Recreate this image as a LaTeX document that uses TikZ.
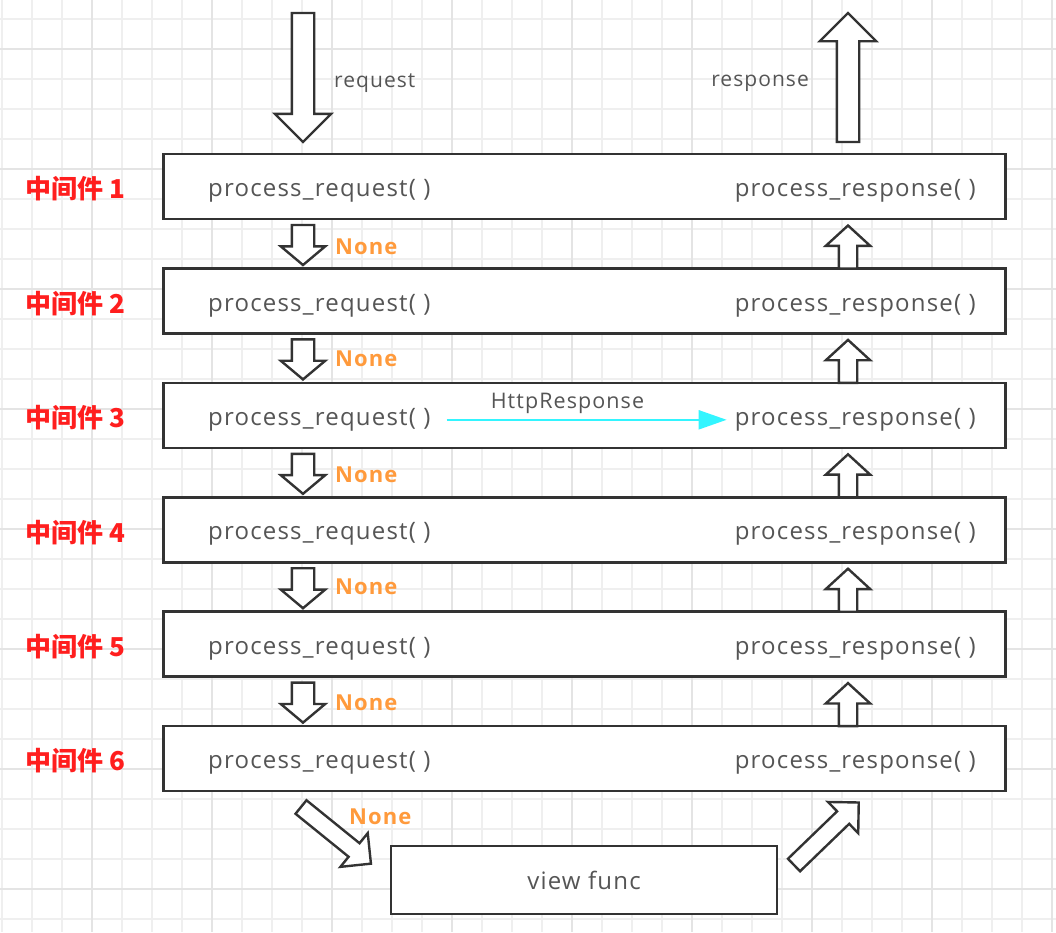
\documentclass[tikz,border=0pt]{standalone}
\usepackage{fontspec}
\setmainfont{Open Sans}
\newfontfamily\methfont{Open Sans}[LetterSpace=5]
\newfontfamily\cjk{Noto Sans CJK SC}
\usepackage{tikz}
\usetikzlibrary{shapes.arrows,arrows.meta}
\definecolor{gridline}{HTML}{EFEFEF}
\definecolor{gridmajor}{HTML}{E4E4E4}
\definecolor{boxline}{HTML}{333333}
\definecolor{txtgray}{HTML}{555555}
\definecolor{layerred}{HTML}{FF1E1E}
\definecolor{noneorange}{HTML}{FF9A3C}
\definecolor{shortcut}{HTML}{33F5FF}

\begin{document}
\begin{tikzpicture}[x=1pt,y=-1pt,
  layer/.style={draw=boxline,line width=2.6pt,fill=white,minimum width=842pt,minimum height=65pt,inner sep=0pt},
  meth/.style={text=txtgray,font=\methfont\fontsize{24}{28}\selectfont,inner sep=0pt},
  small/.style={text=txtgray,font=\methfont\fontsize{21}{24}\selectfont,inner sep=0pt},
  tag/.style={text=layerred,font=\cjk\bfseries\fontsize{26}{28}\selectfont,inner sep=0pt,anchor=west},
  none/.style={text=noneorange,font=\methfont\bfseries\fontsize{22}{24}\selectfont,inner sep=0pt,anchor=west},
  blockarrow/.style={single arrow,draw=boxline,line width=2.4pt,fill=white,inner xsep=0pt,outer sep=0pt,
    single arrow head indent=0pt,anchor=tail},
  bigdown/.style={blockarrow,inner ysep=10pt,single arrow head extend=17pt,single arrow tip angle=90,minimum height=129pt},
  down/.style={blockarrow,rotate=-90,inner ysep=10pt,single arrow head extend=11pt,single arrow tip angle=100,minimum height=40pt},
  up/.style={blockarrow,rotate=90,inner ysep=8pt,single arrow head extend=13pt,single arrow tip angle=95,minimum height=43pt},
  slant/.style={blockarrow,inner ysep=7.5pt,single arrow head extend=13pt,single arrow tip angle=90,minimum height=90pt}]

  \useasboundingbox (0,0) rectangle (1056,932);
  \foreach \gx in {2,32,...,1052} \draw[gridline,line width=1.3pt] (\gx,0) -- (\gx,932);
  \foreach \gy in {19,49,...,919} \draw[gridline,line width=1.3pt] (0,\gy) -- (1056,\gy);
  \foreach \gx in {92,212,...,1052} \draw[gridmajor,line width=1.3pt] (\gx,0) -- (\gx,932);
  \foreach \gy in {49,169,...,889} \draw[gridmajor,line width=1.3pt] (0,\gy) -- (1056,\gy);

  \node[bigdown,rotate=-90] (in) at (303,13) {};
  \node[small,anchor=west] (req) at (334,83) {request};
  \node[bigdown,rotate=90] (out) at (848,142) {};
  \node[small,anchor=east] (resp) at (809,83) {response};

  \node[layer] (1) at (584.5,186.5) {};
  \node[layer] (2) at (584.5,300.9) {};
  \node[layer] (3) at (584.5,415.3) {};
  \node[layer] (4) at (584.5,529.7) {};
  \node[layer] (5) at (584.5,644.1) {};
  \node[layer] (6) at (584.5,758.5) {};

  \node[tag] (l1) at (25,189) {中间件 1};
  \node[tag] (l2) at (25,303.4) {中间件 2};
  \node[tag] (l3) at (25,417.8) {中间件 3};
  \node[tag] (l4) at (25,532.2) {中间件 4};
  \node[tag] (l5) at (25,646.6) {中间件 5};
  \node[tag] (l6) at (25,761) {中间件 6};

  \node[meth,anchor=west] (1a) at (208,191) {process\_request( )};
  \node[meth,anchor=east] (1b) at (976,191) {process\_response( )};
  \node[meth,anchor=west] (2a) at (208,305.4) {process\_request( )};
  \node[meth,anchor=east] (2b) at (976,305.4) {process\_response( )};
  \node[meth,anchor=west] (3a) at (208,419.8) {process\_request( )};
  \node[meth,anchor=east] (3b) at (976,419.8) {process\_response( )};
  \node[meth,anchor=west] (4a) at (208,534.2) {process\_request( )};
  \node[meth,anchor=east] (4b) at (976,534.2) {process\_response( )};
  \node[meth,anchor=west] (5a) at (208,648.6) {process\_request( )};
  \node[meth,anchor=east] (5b) at (976,648.6) {process\_response( )};
  \node[meth,anchor=west] (6a) at (208,763) {process\_request( )};
  \node[meth,anchor=east] (6b) at (976,763) {process\_response( )};

  \node[down] (d1) at (303,225) {};
  \node[down] (d2) at (303,339.4) {};
  \node[down] (d3) at (303,453.8) {};
  \node[down] (d4) at (303,568.2) {};
  \node[down] (d5) at (303,682.6) {};

  \node[none] (n1) at (335,247) {None};
  \node[none] (n2) at (335,359) {None};
  \node[none] (n3) at (335,475) {None};
  \node[none] (n4) at (335,587) {None};
  \node[none] (n5) at (335,703) {None};
  \node[none] (n6) at (349,817) {None};

  \node[up] (u1) at (848,268.5) {};
  \node[up] (u2) at (848,382.9) {};
  \node[up] (u3) at (848,497.3) {};
  \node[up] (u4) at (848,611.7) {};
  \node[up] (u5) at (848,726.1) {};

  \node[draw=boxline,line width=2.6pt,fill=white,minimum width=386pt,minimum height=68pt,inner sep=0pt,
    meth] (view) at (584,880) {view func};
  \node[slant,rotate=-39] (s1) at (301,807) {};
  \node[slant,rotate=44] (s2) at (794,865) {};

  \draw[shortcut,line width=2.2pt,-{Triangle[length=28pt,width=19pt]},shorten <=16pt,shorten >=8pt]
    (3a.east) -- node[above=5pt,pos=0.45,small,font=\methfont\fontsize{21.5}{24}\selectfont] {HttpResponse} (3b.west);
\end{tikzpicture}
\end{document}
